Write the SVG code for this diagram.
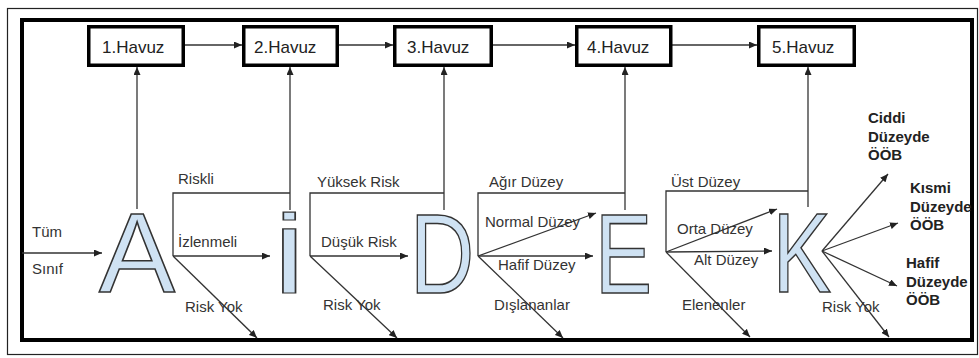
<svg xmlns="http://www.w3.org/2000/svg" width="979" height="358" viewBox="0 0 979 358">
<defs>
<marker id="ah" markerUnits="userSpaceOnUse" markerWidth="9" markerHeight="7" refX="8" refY="3.5" orient="auto">
<path d="M0,0 L8,3.5 L0,7 z" fill="#222"/>
</marker>
<style>
.box{fill:#fff;stroke:#000;stroke-width:3.5}
.bt{font-family:"Liberation Sans",Arial,sans-serif;font-size:17px;fill:#222}
.lbl{font-family:"Liberation Sans",Arial,sans-serif;font-size:15px;fill:#333}
.bold{font-family:"Liberation Sans",Arial,sans-serif;font-size:15px;font-weight:bold;fill:#222}
.big{font-family:"Liberation Sans",Arial,sans-serif;font-size:114px;fill:#cfe2f3;stroke:#333;stroke-width:1.6}
.ln{fill:none;stroke:#333;stroke-width:1.3}
.ar{fill:none;stroke:#333;stroke-width:1.3;marker-end:url(#ah)}
</style>
</defs>
<rect x="0" y="0" width="979" height="358" fill="#fff"/>
<rect x="7.5" y="8.5" width="970" height="346" fill="none" stroke="#222" stroke-width="1.2"/>
<rect x="22" y="20" width="950" height="320" fill="none" stroke="#000" stroke-width="4"/>

<g id="connectors">
<line class="ar" x1="185" y1="45" x2="242" y2="45"/>
<line class="ar" x1="339" y1="45" x2="393" y2="45"/>
<line class="ar" x1="493" y1="45" x2="575" y2="45"/>
<line class="ar" x1="672" y1="45" x2="757" y2="45"/>
<line class="ar" x1="137" y1="209" x2="137" y2="67"/>
<line class="ar" x1="290" y1="210" x2="290" y2="67"/>
<line class="ar" x1="444" y1="210" x2="444" y2="67"/>
<line class="ar" x1="625" y1="210" x2="625" y2="67"/>
<line class="ar" x1="808" y1="207" x2="808" y2="67"/>
<line class="ar" x1="22" y1="253" x2="102" y2="253"/>
<polyline class="ln" points="290,193 173,193 173,256"/>
<line class="ar" x1="173" y1="256" x2="270" y2="256"/>
<line class="ar" x1="173" y1="256" x2="257" y2="338"/>
<polyline class="ln" points="444,193 310,193 310,256"/>
<line class="ar" x1="310" y1="256" x2="408" y2="256"/>
<line class="ar" x1="310" y1="256" x2="397" y2="338"/>
<polyline class="ln" points="625,193 478,193 478,256"/>
<line class="ar" x1="478" y1="256" x2="596" y2="213"/>
<line class="ar" x1="478" y1="256" x2="593" y2="256"/>
<line class="ar" x1="478" y1="256" x2="563" y2="338"/>
<polyline class="ln" points="808,191 666,191 666,252"/>
<line class="ar" x1="666" y1="252" x2="777" y2="209"/>
<line class="ar" x1="666" y1="252" x2="772" y2="251"/>
<line class="ar" x1="666" y1="252" x2="750" y2="337"/>
<line class="ar" x1="822" y1="251" x2="888" y2="174"/>
<line class="ar" x1="822" y1="251" x2="898" y2="223"/>
<line class="ar" x1="822" y1="251" x2="897" y2="286"/>
<line class="ar" x1="822" y1="251" x2="889" y2="337"/>
</g>

<g id="pool1"><rect class="box" x="88.75" y="26.75" width="94.5" height="38.5"/><text class="bt" x="102" y="53">1.Havuz</text></g>
<g id="pool2"><rect class="box" x="243.75" y="26.75" width="93.5" height="38.5"/><text class="bt" x="254" y="53">2.Havuz</text></g>
<g id="pool3"><rect class="box" x="394.75" y="26.75" width="96.5" height="38.5"/><text class="bt" x="407" y="53">3.Havuz</text></g>
<g id="pool4"><rect class="box" x="576.75" y="26.75" width="94" height="38.5"/><text class="bt" x="587" y="53">4.Havuz</text></g>
<g id="pool5"><rect class="box" x="758.75" y="26.75" width="95.5" height="38.5"/><text class="bt" x="772" y="53">5.Havuz</text></g>

<g id="letterA"><text class="big" x="99" y="292">A</text></g>
<g id="letterI"><text class="big" transform="translate(270.5,293) scale(1.45,1)" style="font-size:93px;stroke-width:1.2">İ</text></g>
<g id="letterD"><text class="big" transform="translate(410,293) scale(0.78,1)">D</text></g>
<g id="letterE"><text class="big" transform="translate(595,293) scale(0.75,1)">E</text></g>
<g id="letterK"><text class="big" transform="translate(772.5,292) scale(0.77,1)">K</text></g>

<g id="labels">
<text class="lbl" x="32" y="237">Tüm</text>
<text class="lbl" x="32" y="274">Sınıf</text>
<text class="lbl" x="178" y="184">Riskli</text>
<text class="lbl" x="178" y="247">İzlenmeli</text>
<text class="lbl" x="185" y="312">Risk Yok</text>
<text class="lbl" x="317" y="187">Yüksek Risk</text>
<text class="lbl" x="321" y="247">Düşük Risk</text>
<text class="lbl" x="323" y="310">Risk Yok</text>
<text class="lbl" x="489" y="187">Ağır Düzey</text>
<text class="lbl" x="485" y="227">Normal Düzey</text>
<text class="lbl" x="498" y="270">Hafif Düzey</text>
<text class="lbl" x="494" y="310">Dışlananlar</text>
<text class="lbl" x="671" y="187">Üst Düzey</text>
<text class="lbl" x="677" y="234">Orta Düzey</text>
<text class="lbl" x="694" y="265">Alt Düzey</text>
<text class="lbl" x="682" y="310">Elenenler</text>
<text class="lbl" x="822" y="312">Risk Yok</text>
</g>
<g id="outcome1"><text class="bold"><tspan x="868" y="123">Ciddi</tspan><tspan x="868" y="142">Düzeyde</tspan><tspan x="868" y="160">ÖÖB</tspan></text></g>
<g id="outcome2"><text class="bold"><tspan x="910" y="193">Kısmi</tspan><tspan x="910" y="212">Düzeyde</tspan><tspan x="910" y="230">ÖÖB</tspan></text></g>
<g id="outcome3"><text class="bold"><tspan x="906" y="268">Hafif</tspan><tspan x="906" y="287">Düzeyde</tspan><tspan x="906" y="305">ÖÖB</tspan></text></g>
</svg>
